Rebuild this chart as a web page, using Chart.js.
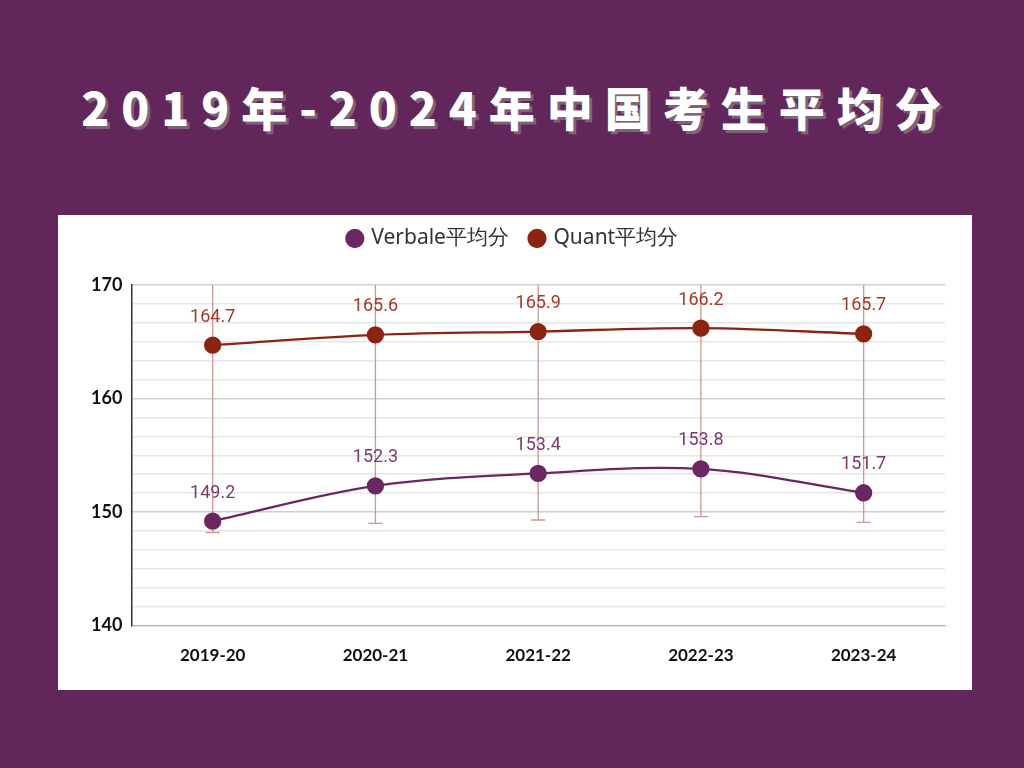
<!DOCTYPE html>
<html>
<head>
<meta charset="utf-8">
<script src="https://cdn.jsdelivr.net/npm/chart.js@4.4.1/dist/chart.umd.min.js"></script>
<style>
  html, body { margin: 0; padding: 0; }
  body { width: 1024px; height: 768px; background: #63265b; position: relative; overflow: hidden; }
  h1 {
    position: absolute; left: 5px; top: 74px; width: 1024px; margin: 0;
    text-align: center; color: #fff;
    font-family: "Noto Sans CJK SC", "Noto Sans", sans-serif; font-weight: 900;
    font-size: 46px; letter-spacing: 12px; line-height: 64px;
    text-shadow: 3px 3px 0 #7d6279;
  }
  .card { position: absolute; left: 58px; top: 215px; width: 914px; height: 475px; background: #fff; }
</style>
</head>
<body>
<h1>2019年-2024年中国考生平均分</h1>
<div class="card"><canvas id="gre"></canvas></div>
<script>
// data
const years = ["2019-20", "2020-21", "2021-22", "2022-23", "2023-24"]
const verbal = [149.2, 152.3, 153.4, 153.8, 151.7]
const quant = [164.7, 165.6, 165.9, 166.2, 165.7]
// vertical range bars (top runs off the plot)
const rangeLow = [148.2, 149.0, 149.3, 149.6, 149.1]
const rangeHigh = [171, 171, 171, 171, 171]
const majorTicks = [140, 150, 160, 170]

const verbalColor = "#6b2763"
const quantColor = "#8c2412"

// range bars behind the lines
const rangeBars = {
  id: "rangeBars",
  beforeDatasetsDraw(chart) {
    const { ctx, chartArea, scales } = chart
    ctx.save()
    ctx.strokeStyle = "#c99a94"
    ctx.lineWidth = 1.3
    years.forEach((y, i) => {
      const x = scales.x.getPixelForValue(i)
      const top = Math.max(scales.y.getPixelForValue(rangeHigh[i]), chartArea.top)
      const bot = scales.y.getPixelForValue(rangeLow[i])
      ctx.beginPath()
      ctx.moveTo(x, top)
      ctx.lineTo(x, bot)
      ctx.moveTo(x - 7, bot)
      ctx.lineTo(x + 7, bot)
      ctx.stroke()
    })
    ctx.restore()
  },
}

// value labels above each point
const valueLabels = {
  id: "valueLabels",
  afterDatasetsDraw(chart) {
    const { ctx } = chart
    ctx.save()
    ctx.font = "18px Roboto"
    ctx.textAlign = "center"
    ctx.textBaseline = "bottom"
    chart.data.datasets.forEach((ds, di) => {
      ctx.fillStyle = di === 0 ? "#7a3a70" : "#a23a2a"
      chart.getDatasetMeta(di).data.forEach((pt, i) => {
        ctx.fillText(ds.data[i].toFixed(1), pt.x, pt.y - 19)
      })
    })
    ctx.restore()
  },
}

// extra room under the legend
const legendGap = {
  id: "legendGap",
  beforeInit(chart) {
    const fit = chart.legend.fit
    chart.legend.fit = function () {
      fit.bind(chart.legend)()
      this.height += 26
    }
  },
}

new Chart(document.getElementById("gre"), {
  type: "line",
  data: {
    labels: years,
    datasets: [
      {
        label: "Verbale平均分",
        data: verbal,
        borderColor: verbalColor,
        backgroundColor: verbalColor,
        borderWidth: 2.3,
        pointRadius: 7.5,
        pointHoverRadius: 7.5,
        tension: 0.35,
      },
      {
        label: "Quant平均分",
        data: quant,
        borderColor: quantColor,
        backgroundColor: quantColor,
        borderWidth: 2.3,
        pointRadius: 7.5,
        pointHoverRadius: 7.5,
        tension: 0.35,
      },
    ],
  },
  options: {
    responsive: true,
    maintainAspectRatio: false,
    animation: false,
    layout: { padding: { left: 24, right: 27, top: -9, bottom: 12 } },
    plugins: {
      legend: {
        labels: {
          usePointStyle: true,
          pointStyle: "circle",
          boxWidth: 12,
          boxHeight: 12,
          padding: 22,
          color: "#333",
          font: { family: "Noto Sans", size: 21 },
        },
      },
      tooltip: { enabled: false },
    },
    scales: {
      x: {
        offset: true,
        grid: { display: false },
        border: { color: "#b5b5b5" },
        ticks: { color: "#111", padding: 12, font: { family: "Lato", size: 17, weight: "bold" } },
      },
      y: {
        min: 140,
        max: 170,
        afterBuildTicks(axis) {
          const t = []
          for (let i = 0; i <= 18; i++) t.push({ value: 140 + (i * 10) / 6 })
          axis.ticks = t
        },
        border: { color: "#333", width: 1.5 },
        grid: {
          drawTicks: false,
          color: (c) => (majorTicks.some((m) => Math.abs(m - c.tick.value) < 1e-6) ? "#cfcfcf" : "#e6e6e6"),
          lineWidth: 1.5,
        },
        ticks: {
          autoSkip: false,
          color: "#111",
          padding: 9,
          font: { family: "Lato", size: 18, weight: "bold" },
          callback: (v) => {
            const m = majorTicks.find((n) => Math.abs(n - v) < 1e-6)
            return m === undefined ? "" : String(m)
          },
        },
      },
    },
  },
  plugins: [rangeBars, valueLabels, legendGap],
})
</script>
</body>
</html>
